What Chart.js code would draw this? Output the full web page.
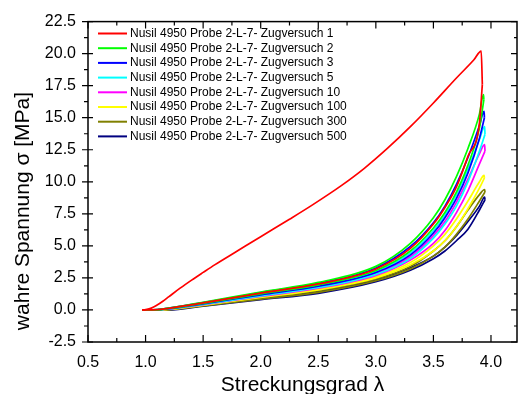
<!DOCTYPE html>
<html>
<head>
<meta charset="utf-8">
<script src="https://cdn.jsdelivr.net/npm/chart.js@4.4.1/dist/chart.umd.min.js"></script>
<style>
  html, body { margin: 0; padding: 0; background: #fff; }
  #wrap { width: 519px; height: 394px; }
</style>
</head>
<body>
<div id="wrap"><canvas id="stressChart"></canvas></div>
<script>
// Zugversuche, Nusil 4950 Probe 2-L-7
const testNames = ['1', '2', '3', '5', '10', '100', '300', '500'];
const testColors = ['#ff0000', '#00ff00', '#0000ff', '#00ffff', '#ff00ff', '#ffff00', '#808000', '#000080'];

// first loading (Zugversuch 1)
const lambdaFirst = [0.97, 1.0, 1.05, 1.1, 1.15, 1.2, 1.3, 1.4, 1.5, 1.6, 1.8, 2.0, 2.25, 2.45, 2.7, 2.9, 3.1, 3.3, 3.5, 3.7, 3.85];
const test1Load = [0, 0.03, 0.14, 0.38, 0.68, 1.02, 1.7, 2.33, 2.93, 3.52, 4.62, 5.72, 7.08, 8.2, 9.7, 11.05, 12.6, 14.3, 16.15, 18.1, 19.5];

// shared stretch grid for the later cycles and all unloading branches
const lambdaGrid = [0.97, 1.1, 1.2, 1.5, 2.0, 2.5, 3.0, 3.3, 3.5, 3.6, 3.7, 3.8, 3.9];

const test2Load   = [0, 0.02, 0.15, 0.60, 1.40, 2.15, 3.40, 5.20, 7.2, 8.6, 10.4, 12.6, 15.3];
const test3Load   = [0, 0.02, 0.14, 0.57, 1.35, 2.08, 3.28, 4.95, 6.8, 8.1, 9.8, 11.9, 14.4];
const test5Load   = [0, 0.01, 0.11, 0.50, 1.22, 1.90, 3.00, 4.45, 6.2, 7.4, 9.0, 11.0, 13.3];
const test10Load  = [0, 0.01, 0.09, 0.46, 1.14, 1.80, 2.85, 4.15, 5.8, 6.9, 8.4, 10.2, 12.2];
const test100Load = [0, 0, 0.06, 0.40, 1.02, 1.63, 2.60, 3.70, 5.0, 5.9, 7.1, 8.5, 10.0];
const test300Load = [0, 0, 0.04, 0.36, 0.94, 1.50, 2.42, 3.40, 4.6, 5.4, 6.5, 7.8, 9.0];
const test500Load = [0, 0, 0.03, 0.34, 0.90, 1.44, 2.35, 3.30, 4.2, 4.9, 5.8, 6.9, 8.1];

const test1Unload   = [0, 0.02, 0.13, 0.55, 1.32, 2.03, 3.20, 4.80, 6.7, 8.0, 9.6, 12.0, 14.6];
const test2Unload   = [0, 0.01, 0.12, 0.52, 1.26, 1.96, 3.08, 4.60, 6.4, 7.6, 9.2, 11.3, 14.2];
const test3Unload   = [0, 0.01, 0.10, 0.48, 1.18, 1.85, 2.92, 4.30, 6.0, 7.2, 8.7, 10.7, 13.4];
const test5Unload   = [0, 0.01, 0.08, 0.44, 1.10, 1.75, 2.78, 4.02, 5.6, 6.7, 8.1, 10.0, 12.4];
const test10Unload  = [0, 0, 0.07, 0.42, 1.06, 1.70, 2.70, 3.90, 5.2, 6.2, 7.6, 9.3, 11.4];
const test100Unload = [0, 0, 0.05, 0.38, 0.98, 1.57, 2.50, 3.52, 4.6, 5.4, 6.5, 7.9, 9.5];
const test300Unload = [0, 0, 0.02, 0.32, 0.85, 1.37, 2.28, 3.20, 4.2, 4.9, 5.9, 7.1, 8.5];
const test500Unload = [0, 0, 0, 0.30, 0.80, 1.30, 2.20, 3.10, 4.0, 4.6, 5.4, 6.3, 7.8];

// turning points (peak and the small drop right after it)
const peakLambda = [3.915, 3.935, 3.94, 3.945, 3.945, 3.94, 3.945, 3.945];
const peakStress = [20.2, 16.8, 15.5, 14.3, 12.9, 10.5, 9.4, 8.8];
const dropLambda = [3.925, 3.938, 3.943, 3.948, 3.948, 3.943, 3.948, 3.948];
const dropStress = [17.6, 16.4, 15.0, 13.7, 12.4, 10.3, 9.2, 8.6];

const xTicks = [0.5, 1.0, 1.5, 2.0, 2.5, 3.0, 3.5, 4.0];
const yTicks = [-2.5, 0, 2.5, 5, 7.5, 10, 12.5, 15, 17.5, 20, 22.5];

const loads = [null, test2Load, test3Load, test5Load, test10Load, test100Load, test300Load, test500Load];
const unloads = [test1Unload, test2Unload, test3Unload, test5Unload, test10Unload, test100Unload, test300Unload, test500Unload];

const FONT = "'Liberation Sans', Arial, sans-serif";

const datasets = [];
testNames.forEach((name, i) => {
  let loadPts;
  if (i === 0) {
    loadPts = lambdaFirst.map((l, k) => ({ x: l, y: test1Load[k] }));
  } else {
    loadPts = lambdaGrid.map((l, k) => ({ x: l, y: loads[i][k] }));
  }
  loadPts.push({ x: peakLambda[i], y: peakStress[i] });
  loadPts.push({ x: dropLambda[i], y: dropStress[i] });

  const unloadPts = [{ x: dropLambda[i], y: dropStress[i] }];
  for (let k = lambdaGrid.length - 1; k >= 0; k--) {
    unloadPts.push({ x: lambdaGrid[k], y: unloads[i][k] });
  }

  const common = {
    borderColor: testColors[i],
    backgroundColor: testColors[i],
    borderWidth: 1.7,
    pointRadius: 0,
    showLine: true,
    fill: false,
    cubicInterpolationMode: 'monotone'
  };
  datasets.push(Object.assign({ label: 'Nusil 4950 Probe 2-L-7- Zugversuch ' + name, data: loadPts }, common));
  datasets.push(Object.assign({ label: '', data: unloadPts }, common));
});

// frame with inward ticks, legend box and axis titles
const framePlugin = {
  id: 'frame',
  afterDatasetsDraw(chart) {
    const { ctx, chartArea: a, scales: { x, y } } = chart;
    ctx.save();
    ctx.strokeStyle = '#000';
    ctx.lineWidth = 1.5;
    ctx.strokeRect(a.left, a.top, a.right - a.left, a.bottom - a.top);

    ctx.lineWidth = 1.2;
    ctx.beginPath();
    for (let k = 0; k <= 14; k++) {
      const px = x.getPixelForValue(0.5 + k * 0.25);
      const len = k % 2 === 0 ? 7 : 4;
      ctx.moveTo(px, a.bottom); ctx.lineTo(px, a.bottom - len);
      ctx.moveTo(px, a.top); ctx.lineTo(px, a.top + len);
    }
    for (let k = 0; k <= 20; k++) {
      const py = y.getPixelForValue(-2.5 + k * 1.25);
      const major = k % 2 === 0;
      ctx.moveTo(a.left - (major ? 6 : 4), py); ctx.lineTo(a.left + (major ? 5 : 0), py);
      ctx.moveTo(a.right, py); ctx.lineTo(a.right - (major ? 6 : 3), py);
    }
    ctx.stroke();

    // legend
    ctx.font = '12px ' + FONT;
    ctx.textBaseline = 'middle';
    ctx.textAlign = 'left';
    testNames.forEach((name, i) => {
      const ry = 33.5 + i * 14.7;
      ctx.strokeStyle = testColors[i];
      ctx.lineWidth = 2;
      ctx.beginPath();
      ctx.moveTo(98, ry); ctx.lineTo(127, ry);
      ctx.stroke();
      ctx.fillStyle = '#000';
      ctx.fillText('Nusil 4950 Probe 2-L-7- Zugversuch ' + name, 130, ry);
    });

    // axis titles
    ctx.fillStyle = '#000';
    ctx.font = '21px ' + FONT;
    ctx.textAlign = 'center';
    ctx.textBaseline = 'alphabetic';
    ctx.fillText('Streckungsgrad \u03bb', (a.left + a.right) / 2, 391);
    ctx.save();
    ctx.translate(29, 211);
    ctx.rotate(-Math.PI / 2);
    ctx.fillText('wahre Spannung \u03c3 [MPa]', 0, 0);
    ctx.restore();
    ctx.restore();
  }
};

new Chart(document.getElementById('stressChart'), {
  type: 'scatter',
  data: { datasets: datasets },
  options: {
    responsive: true,
    maintainAspectRatio: false,
    animation: false,
    layout: { padding: { top: 19, right: 2, left: 0, bottom: 0 } },
    plugins: {
      legend: { display: false },
      tooltip: { enabled: false }
    },
    scales: {
      x: {
        type: 'linear',
        min: 0.5,
        max: 4.226,
        afterFit: s => { s.height = 52; },
        afterBuildTicks: s => { s.ticks = xTicks.map(v => ({ value: v })); },
        grid: { display: false, drawTicks: false },
        border: { display: false },
        ticks: {
          autoSkip: false,
          maxRotation: 0,
          padding: 11,
          color: '#000',
          font: { family: FONT, size: 16 },
          callback: v => Number(v).toFixed(1)
        }
      },
      y: {
        type: 'linear',
        min: -2.5,
        max: 22.5,
        afterFit: s => { s.width = 88; },
        afterBuildTicks: s => { s.ticks = yTicks.map(v => ({ value: v })); },
        grid: { display: false, drawTicks: false },
        border: { display: false },
        ticks: {
          autoSkip: false,
          padding: 12,
          color: '#000',
          font: { family: FONT, size: 16 },
          callback: v => Number(v).toFixed(1)
        }
      }
    }
  },
  plugins: [framePlugin]
});
</script>
</body>
</html>
